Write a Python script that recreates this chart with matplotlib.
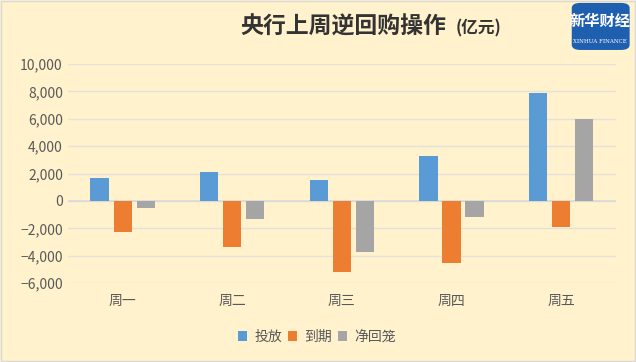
import matplotlib.pyplot as plt
import numpy as np
from matplotlib.patches import FancyBboxPatch

plt.rcParams['font.family'] = ['Noto Sans CJK SC', 'DejaVu Sans']

days = ["周一", "周二", "周三", "周四", "周五"]
series = ["投放", "到期", "净回笼"]
inject = [1700, 2100, 1500, 3300, 7900]
mature = [-2250, -3400, -5200, -4500, -1900]
net = [-550, -1300, -3700, -1200, 6000]
colors = ["#5B9BD5", "#ED7D31", "#A5A5A5"]
yticks = [-6000, -4000, -2000, 0, 2000, 4000, 6000, 8000, 10000]

bg = "#FFF2CC"
fig = plt.figure(figsize=(6.36, 3.62), dpi=100, facecolor=bg)
ax = fig.add_axes([0.1065, 0.218, 0.862, 0.605], facecolor=bg)

x = np.arange(len(days))
w = 0.165
off = 0.21
for i, (vals, c, name) in enumerate(zip([inject, mature, net], colors, series)):
    ax.bar(x + (i - 1) * off, vals, width=w, color=c, label=name, zorder=3)

ax.set_xlim(-0.5, 4.5)
ax.set_ylim(-6000, 10000)
ax.set_yticks(yticks)
ax.set_yticklabels([f"{v:,}".replace("-", "\u2212") for v in yticks])
ax.set_xticks(x)
ax.set_xticklabels(days)
ax.tick_params(length=0, colors="#595959", labelsize=10)
ax.tick_params(axis="x", pad=8)
ax.grid(axis="y", color="#E3E1DA", linewidth=1, zorder=0)
ax.axhline(0, color="#D9D9D9", linewidth=1.2, zorder=2)
for s in ax.spines.values():
    s.set_visible(False)

fig.text(0.539, 0.924, "央行上周逆回购操作", fontsize=16.5, fontweight="bold",
         color="#333333", ha="center", va="center")
fig.text(0.716, 0.922, "(亿元)", fontsize=12, fontweight="bold",
         color="#333333", ha="left", va="center")

leg = fig.legend(loc="center", bbox_to_anchor=(0.498, 0.069), ncol=3, frameon=False,
                 fontsize=10, handlelength=0.7, handleheight=0.7, handletextpad=0.5,
                 columnspacing=0.4)
for t in leg.get_texts():
    t.set_color("#595959")

# logo
logo = FancyBboxPatch((0.899, 0.862), 0.091, 0.13, boxstyle="round,pad=0,rounding_size=0.014",
                      transform=fig.transFigure, facecolor="#1F5FB0", edgecolor="none")
fig.patches.append(logo)
fig.text(0.944, 0.943, "新华财经", fontsize=11, color="white", ha="center", va="center",
         fontweight="bold")
fig.text(0.944, 0.885, "XINHUA FINANCE", fontsize=4, color="white", ha="center", va="center",
         family="DejaVu Serif")

# frame
frame = plt.Rectangle((0.002, 0.003), 0.996, 0.994, transform=fig.transFigure,
                      fill=False, edgecolor="#D9D9D9", linewidth=1)
fig.patches.append(frame)

plt.savefig("out.png", dpi=100, facecolor=bg)
